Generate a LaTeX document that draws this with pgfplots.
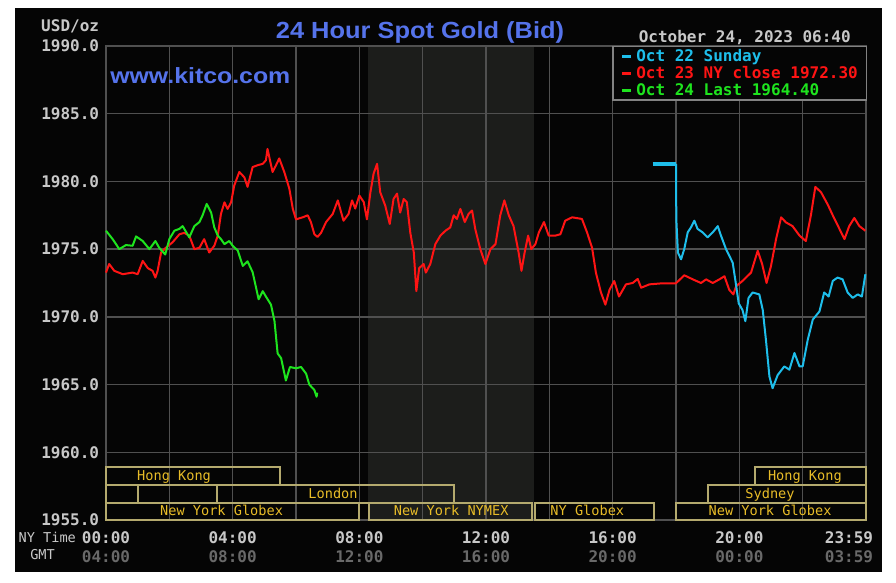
\documentclass[border=0pt]{standalone}
\usepackage{fontspec}
\usepackage{graphicx}
\usepackage{pgfplots}
\pgfplotsset{compat=1.18}
\newfontfamily\mono{DejaVu Sans Mono}
\newfontfamily\sansf{Liberation Sans}
\definecolor{bgc}{RGB}{5,5,5}
\definecolor{gridc}{RGB}{80,80,80}
\definecolor{shadec}{RGB}{28,29,27}
\definecolor{labc}{RGB}{200,200,200}
\definecolor{gmtc}{RGB}{105,105,105}
\definecolor{titleblue}{RGB}{85,115,235}
\definecolor{cyanc}{RGB}{30,190,235}
\definecolor{redc}{RGB}{255,20,20}
\definecolor{greenc}{RGB}{30,228,30}
\definecolor{boxc}{RGB}{180,170,110}
\definecolor{sesc}{RGB}{232,188,40}
\definecolor{legc}{RGB}{130,130,130}
\newcommand{\tl}[2]{\textcolor{labc}{#1}\\\textcolor{gmtc}{#2}}
\begin{document}
\begin{tikzpicture}
\fill[white] (0,0) rectangle (672pt,436.5pt);
\begin{scope}[x=0.75pt,y=0.75pt]
\fill[bgc] (15,10) rectangle (882,574);
% NYMEX session shading (8:17 - 13:30 NY time)
\fill[shadec] (368.2,62) rectangle (533.5,536);
\end{scope}
\begin{axis}[
  at={(79.5pt,46.5pt)}, anchor=south west, scale only axis,
  width=570pt, height=355.5pt,
  xmin=0, xmax=24, ymin=1955, ymax=1990,
  clip=false,
  xmajorgrids=true, ymajorgrids=true,
  major grid style={gridc, line width=1.1pt},
  axis line style={gridc, line width=1.1pt},
  major tick length=0pt, minor tick num=0,
  xtick={0,2,4,6,8,10,12,14,16,18,20,22},
  xticklabels={\tl{00:00}{04:00},{},\tl{04:00}{08:00},{},\tl{08:00}{12:00},{},\tl{12:00}{16:00},{},\tl{16:00}{20:00},{},\tl{20:00}{00:00},{}},
  extra x ticks={24}, extra x tick labels={\tl{23:59}{03:59}},
  extra x tick style={xticklabel style={xshift=-12.75pt}},
  xticklabel style={font=\mono\bfseries\fontsize{12}{13.7}\selectfont, align=center, inner sep=0pt, anchor=north, yshift=-8.8pt},
  ytick={1955,1960,1965,1970,1975,1980,1985,1990},
  yticklabels={1955.0,1960.0,1965.0,1970.0,1975.0,1980.0,1985.0,1990.0},
  yticklabel style={font=\mono\bfseries\fontsize{12}{14}\selectfont, text=labc, anchor=east, inner sep=0pt, xshift=-5pt},
]
% Oct 23 (NY close 1972.30)
\addplot[redc, line width=1.5pt, line join=round] coordinates {
(0,1973.27) (0.1,1973.9) (0.26,1973.4) (0.53,1973.15) (0.84,1973.27) (1.0,1973.15) (1.16,1974.13) (1.32,1973.6) (1.47,1973.4) (1.56,1972.9) (1.63,1973.4) (1.74,1974.75) (1.89,1975.1) (2.1,1975.5) (2.32,1976.1) (2.47,1976.2) (2.63,1976.0) (2.79,1975.0) (2.95,1975.1) (3.1,1975.74) (3.26,1974.75) (3.42,1975.25) (3.53,1976.0) (3.63,1977.6) (3.74,1978.46) (3.84,1977.97) (3.95,1978.46) (4.05,1979.7) (4.21,1980.7) (4.37,1980.3) (4.47,1979.6) (4.63,1981.06) (4.79,1981.2) (4.95,1981.3) (5.05,1981.56) (5.1,1982.4) (5.26,1980.7) (5.37,1981.2) (5.47,1981.7) (5.63,1980.7) (5.79,1979.46) (5.9,1977.97) (6.0,1977.2) (6.21,1977.35) (6.37,1977.5) (6.47,1977.0) (6.58,1976.1) (6.68,1975.9) (6.79,1976.2) (6.95,1977.0) (7.16,1977.6) (7.32,1978.6) (7.5,1977.1) (7.66,1977.6) (7.77,1978.6) (7.87,1978.0) (8.0,1978.96) (8.14,1978.47) (8.24,1977.2) (8.35,1979.2) (8.45,1980.57) (8.56,1981.3) (8.66,1979.2) (8.82,1978.2) (8.96,1976.86) (9.08,1978.7) (9.19,1979.1) (9.29,1977.7) (9.4,1978.7) (9.5,1978.47) (9.61,1976.2) (9.72,1974.75) (9.8,1971.9) (9.89,1973.6) (10.03,1973.9) (10.1,1973.27) (10.24,1973.9) (10.4,1975.37) (10.56,1976.0) (10.72,1976.36) (10.87,1976.6) (10.98,1977.5) (11.08,1977.23) (11.19,1977.97) (11.33,1977.0) (11.45,1977.6) (11.56,1977.85) (11.66,1976.5) (11.82,1975.0) (11.98,1973.9) (12.14,1975.0) (12.3,1975.37) (12.45,1977.5) (12.58,1978.6) (12.72,1977.5) (12.87,1976.7) (13.03,1974.75) (13.12,1973.4) (13.22,1974.75) (13.33,1976.0) (13.43,1975.0) (13.56,1975.37) (13.67,1976.24) (13.83,1977.0) (13.98,1976.0) (14.19,1976.0) (14.35,1976.1) (14.5,1977.1) (14.72,1977.35) (15.03,1977.23) (15.19,1976.24) (15.35,1975.1) (15.47,1973.27) (15.63,1971.8) (15.77,1970.9) (15.9,1972.0) (16.05,1972.65) (16.2,1971.5) (16.42,1972.4) (16.63,1972.5) (16.79,1972.8) (16.9,1972.15) (17.16,1972.4) (17.58,1972.48) (18.0,1972.48) (18.26,1973.07) (18.53,1972.77) (18.79,1972.5) (18.95,1972.77) (19.16,1972.5) (19.37,1972.77) (19.53,1973.0) (19.68,1972.0) (19.81,1971.66) (19.9,1972.27) (20.1,1972.65) (20.37,1973.27) (20.58,1974.88) (20.72,1973.9) (20.86,1972.5) (21.0,1973.76) (21.16,1975.74) (21.32,1977.35) (21.47,1976.98) (21.68,1976.7) (21.9,1976.0) (22.1,1975.6) (22.26,1977.5) (22.4,1979.6) (22.58,1979.2) (22.79,1978.3) (22.95,1977.5) (23.16,1976.5) (23.32,1975.74) (23.47,1976.7) (23.63,1977.3) (23.79,1976.7) (23.98,1976.36)
};

% Oct 22 Sunday
\addplot[cyanc, line width=3pt] coordinates {(17.26,1981.3) (18.0,1981.3)};
\addplot[cyanc, line width=1.5pt, line join=round] coordinates {
(18.0,1981.3) (18.01,1977.2) (18.06,1974.75) (18.16,1974.25) (18.26,1975.0) (18.37,1976.24) (18.47,1976.6) (18.58,1977.1) (18.68,1976.5) (18.84,1976.24) (19.0,1975.87) (19.16,1976.24) (19.32,1976.7) (19.42,1976.0) (19.58,1975.0) (19.79,1974.0) (19.87,1972.77) (19.98,1971.0) (20.1,1970.5) (20.19,1969.68) (20.29,1971.4) (20.42,1971.8) (20.63,1971.66) (20.74,1970.5) (20.84,1968.3) (20.95,1965.6) (21.05,1964.73) (21.21,1965.7) (21.42,1966.34) (21.58,1966.1) (21.74,1967.33) (21.9,1966.34) (22.0,1966.34) (22.16,1968.3) (22.32,1969.8) (22.53,1970.4) (22.68,1971.8) (22.82,1971.5) (22.95,1972.65) (23.1,1972.9) (23.26,1972.77) (23.42,1971.8) (23.58,1971.4) (23.74,1971.66) (23.87,1971.5) (23.98,1973.15)
};

% Oct 24 (Last 1964.40)
\addplot[greenc, line width=1.5pt, line join=round] coordinates {
(0,1976.36) (0.21,1975.74) (0.42,1975.0) (0.63,1975.3) (0.84,1975.25) (0.95,1975.94) (1.16,1975.6) (1.37,1975.0) (1.56,1975.6) (1.68,1975.1) (1.87,1974.6) (2.0,1975.74) (2.16,1976.36) (2.32,1976.5) (2.42,1976.7) (2.63,1975.87) (2.79,1976.7) (2.95,1977.0) (3.05,1977.5) (3.18,1978.34) (3.32,1977.7) (3.42,1976.6) (3.53,1976.0) (3.63,1975.74) (3.74,1975.37) (3.89,1975.6) (4.0,1975.25) (4.16,1974.9) (4.32,1973.76) (4.47,1974.1) (4.63,1973.3) (4.82,1971.3) (4.95,1971.9) (5.05,1971.5) (5.21,1970.9) (5.32,1969.7) (5.42,1967.3) (5.53,1966.95) (5.68,1965.3) (5.81,1966.3) (6.0,1966.2) (6.16,1966.3) (6.32,1965.8) (6.42,1965.0) (6.58,1964.6) (6.65,1964.1) (6.67,1964.4)
};

% trading sessions
\begin{scope}[boxc, line width=1.5pt]
\draw (axis cs:0,1957.58) rectangle (axis cs:5.5,1958.91);
\draw (axis cs:20.5,1957.58) rectangle (axis cs:24,1958.91);
\draw (axis cs:0,1956.26) rectangle (axis cs:1,1957.58);
\draw (axis cs:1,1956.26) rectangle (axis cs:3.5,1957.58);
\draw (axis cs:3.5,1956.26) rectangle (axis cs:11,1957.58);
\draw (axis cs:19,1956.26) rectangle (axis cs:24,1957.58);
\draw (axis cs:0,1955) rectangle (axis cs:8,1956.26);
\draw (axis cs:8.3,1955) rectangle (axis cs:13.45,1956.26);
\draw (axis cs:13.55,1955) rectangle (axis cs:17.3,1956.26);
\draw (axis cs:18,1955) rectangle (axis cs:24,1956.26);
\end{scope}
\begin{scope}[every node/.style={text=sesc, font=\mono\fontsize{10.2}{12}\selectfont, inner sep=0pt, anchor=base}]
\node at (axis cs:2.15,1957.95) {Hong Kong};
\node at (axis cs:22.07,1957.95) {Hong Kong};
\node at (axis cs:7.17,1956.60) {London};
\node at (axis cs:20.97,1956.60) {Sydney};
\node at (axis cs:3.65,1955.32) {New York Globex};
\node at (axis cs:10.9,1955.32) {New York NYMEX};
\node at (axis cs:15.2,1955.32) {NY Globex};
\node at (axis cs:20.97,1955.32) {New York Globex};
\end{scope}
\end{axis}

\begin{scope}[x=0.75pt,y=0.75pt]
% title and texts
\node[anchor=base, inner sep=0pt, text=titleblue, font=\sansf\bfseries\fontsize{17.5}{20}\selectfont] at (420,543.7) {\scalebox{1.09}[1]{24 Hour Spot Gold (Bid)}};
\node[anchor=base west, inner sep=0pt, text=titleblue, font=\sansf\bfseries\fontsize{16.5}{19}\selectfont] at (110,498.7) {\scalebox{1.13}[1]{www.kitco.com}};
\node[anchor=base east, inner sep=0pt, text=labc, font=\mono\bfseries\fontsize{12}{14}\selectfont] at (99.3,550.3) {USD/oz};
\node[anchor=base east, inner sep=0pt, text=labc, font=\mono\bfseries\fontsize{12}{14}\selectfont] at (851,539.7) {October 24, 2023 06:40};
\node[anchor=base west, inner sep=0pt, text=labc, font=\mono\fontsize{10.2}{12}\selectfont] at (18.3,39.3) {NY Time};
\node[anchor=base west, inner sep=0pt, text=labc, font=\mono\fontsize{10.2}{12}\selectfont] at (30,22) {GMT};
% legend
\draw[legc, line width=1.1pt, fill=bgc] (613,535.5) rectangle (866.7,482);
\draw[cyanc, line width=2.2pt] (622,525.5) -- (631,525.5);
\draw[redc, line width=2.2pt] (622,508.7) -- (631,508.7);
\draw[greenc, line width=2.2pt] (622,491.3) -- (631,491.3);
\node[anchor=base west, inner sep=0pt, text=cyanc, font=\mono\bfseries\fontsize{12}{14}\selectfont] at (636,520.3) {Oct 22 Sunday};
\node[anchor=base west, inner sep=0pt, text=redc, font=\mono\bfseries\fontsize{12}{14}\selectfont] at (636,503.7) {Oct 23 NY close 1972.30};
\node[anchor=base west, inner sep=0pt, text=greenc, font=\mono\bfseries\fontsize{12}{14}\selectfont] at (636,486.3) {Oct 24 Last 1964.40};
\end{scope}
\pgfresetboundingbox
\path[use as bounding box] (0,0) rectangle (672pt,436.5pt);
\end{tikzpicture}
\end{document}
